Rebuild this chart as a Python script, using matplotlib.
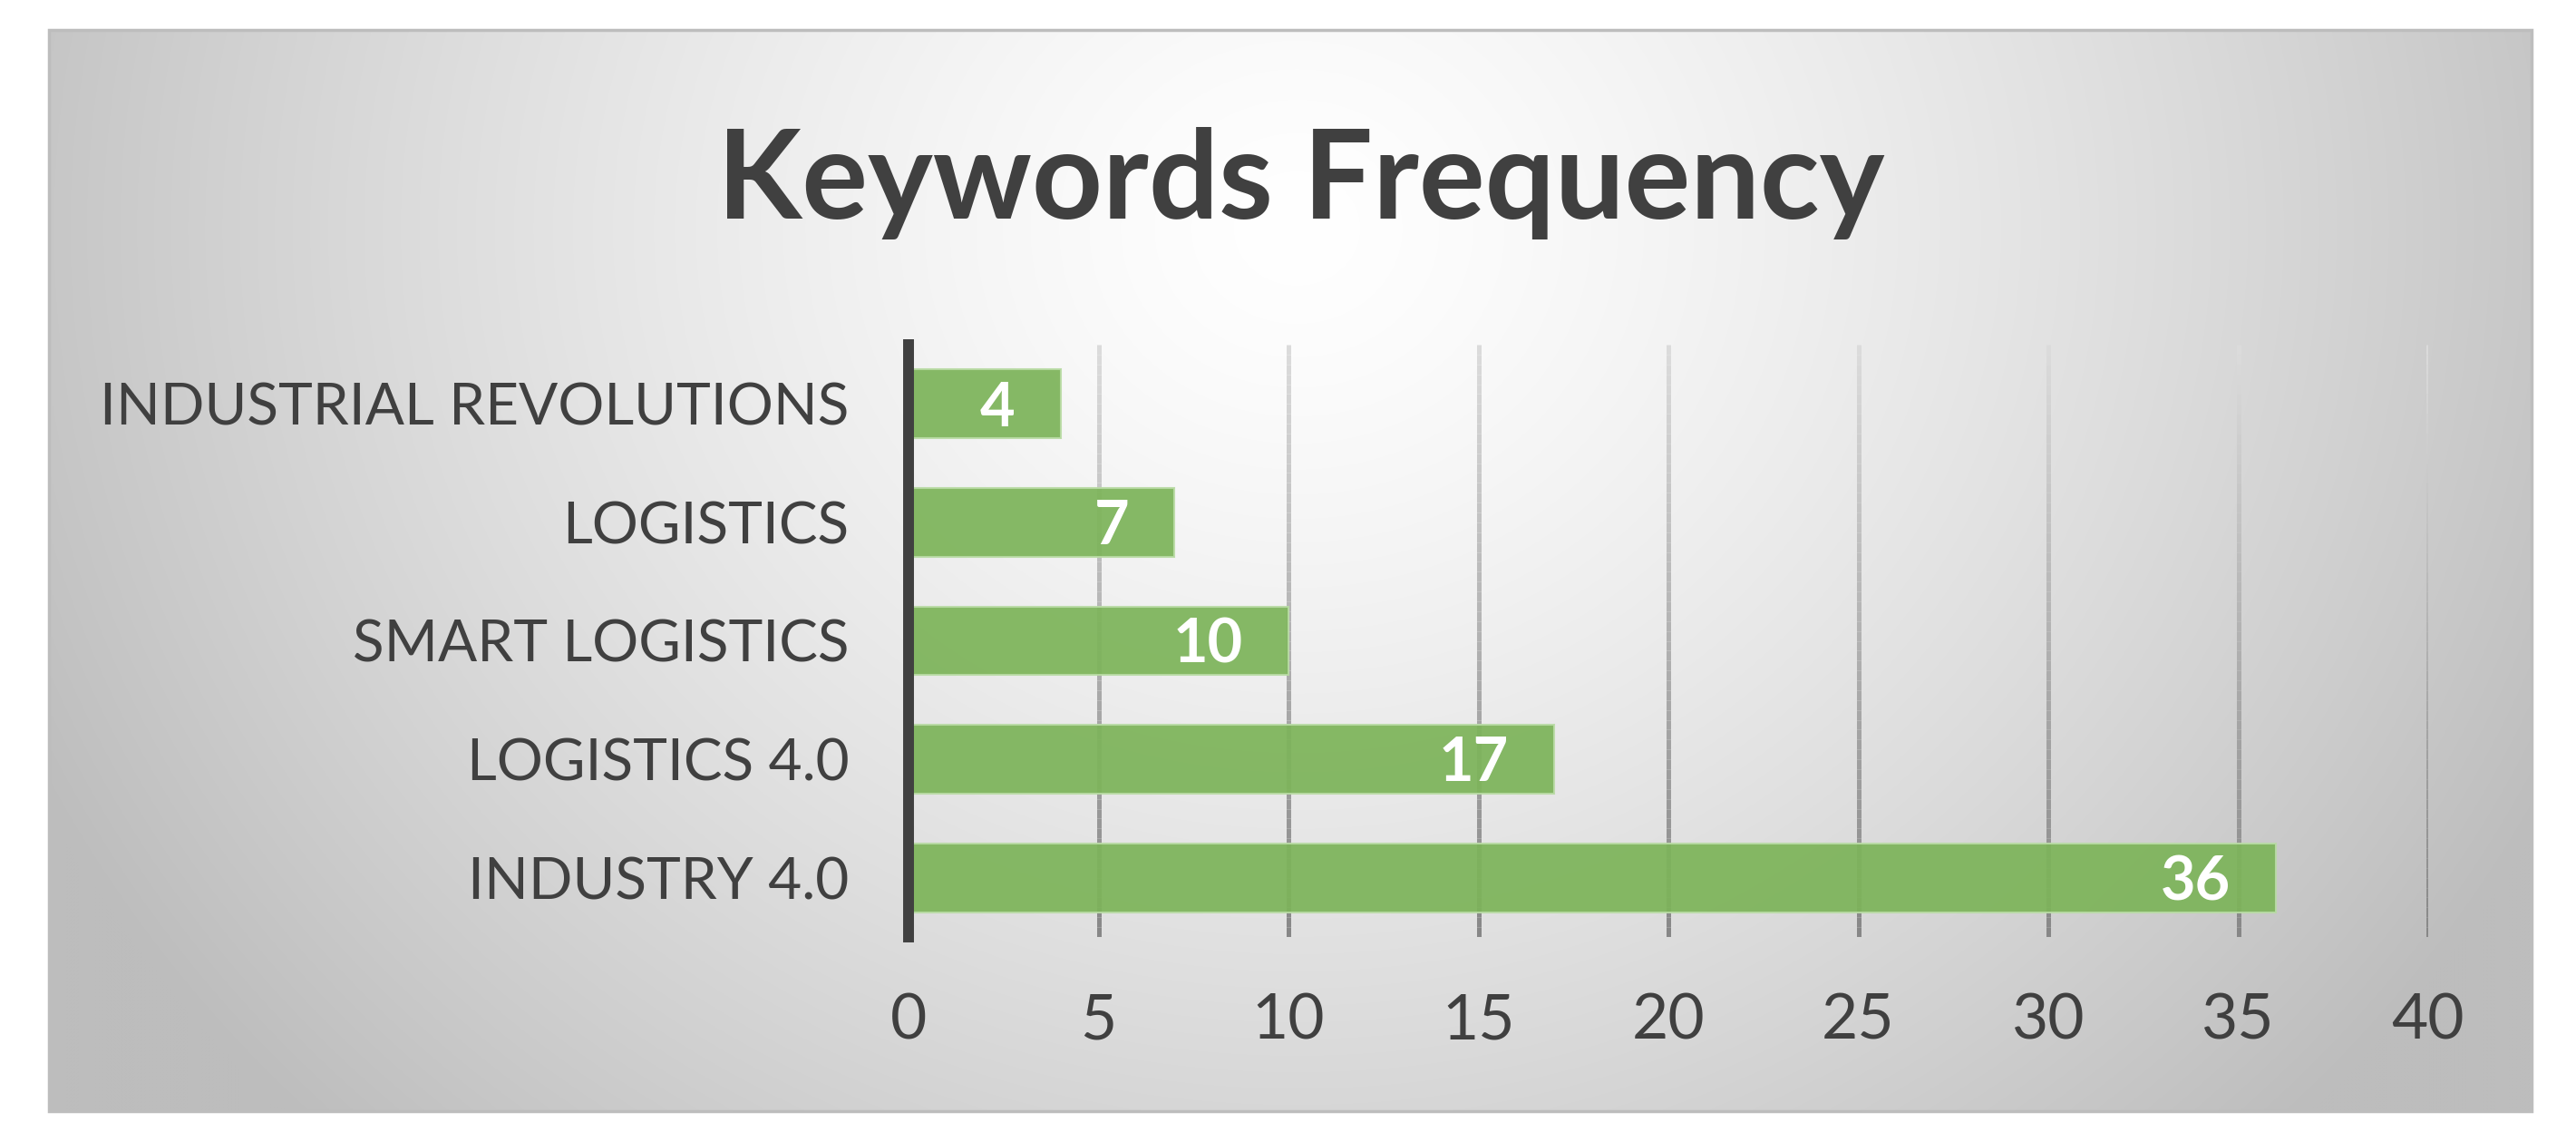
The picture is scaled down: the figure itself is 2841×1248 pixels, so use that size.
import numpy as np
import matplotlib
matplotlib.use("Agg")
import matplotlib.pyplot as plt
from matplotlib.patches import Polygon
from matplotlib.collections import LineCollection

# ---- data ----
categories = ["INDUSTRY 4.0", "LOGISTICS 4.0", "SMART LOGISTICS", "LOGISTICS", "INDUSTRIAL REVOLUTIONS"]
values = [36, 17, 10, 7, 4]
x_ticks = [0, 5, 10, 15, 20, 25, 30, 35, 40]
title = "Keywords Frequency"

W, H = 2841, 1248
DPI = 100
fig = plt.figure(figsize=(W / DPI, H / DPI), dpi=DPI)
fig.patch.set_facecolor("white")

FONT = "Lato"
TXT = "#404040"

# ---- background panel with radial gradient ----
bg = fig.add_axes([0, 0, 1, 1], zorder=-5)
bg.set_xlim(0, W)
bg.set_ylim(H, 0)
bg.axis("off")
yy, xx = np.mgrid[0:H:4, 0:W:4]
d = np.sqrt(((xx - 1430) / 1550.0) ** 2 + ((yy - 250) / 1400.0) ** 2)
v = 255 - 66 * np.clip(d, 0, 1) ** 1.35
img = np.dstack([v, v, v]) / 255.0
panel_pts = [(54, 33), (2792, 33), (2792, 1225), (54, 1225)]
im = bg.imshow(img, extent=(0, W, H, 0), interpolation="bilinear", aspect="auto")
poly = Polygon(panel_pts, closed=True, facecolor="none", edgecolor="#bdbdbd", linewidth=2.5)
bg.add_patch(poly)
im.set_clip_path(poly)

# ---- title ----
fig.text(1435 / W, 1 - 241 / H, title, ha="center", va="baseline",
         fontsize=98, fontweight="bold", color=TXT, family=FONT)

# ---- main axes ----
left, right, top, bottom = 1002, 2678, 380, 1033
ax = fig.add_axes([left / W, 1 - bottom / H, (right - left) / W, (bottom - top) / H])
ax.patch.set_alpha(0)
ax.set_xlim(0, 40)
ax.set_ylim(-0.5, len(categories) - 0.5)

# gradient gridlines (lighter at top, darker at bottom)
nseg = 60
ys = np.linspace(-0.5, len(categories) - 0.5, nseg + 1)
for xt in x_ticks[1:]:
    segs = [[(xt, ys[i]), (xt, ys[i + 1])] for i in range(nseg)]
    t = np.linspace(1, 0, nseg)  # 1 at bottom -> 0 at top
    shade = 0.86 - 0.33 * t
    cols = [(s, s, s) for s in shade]
    lc = LineCollection(segs, colors=cols, linewidths=3.6, zorder=1)
    ax.add_collection(lc)

ypos = np.arange(len(categories))
ax.barh(ypos, values, height=0.58, color="#7DB45A", alpha=0.93,
        edgecolor="#b9dba5", linewidth=1.5, zorder=2)

for y, val in zip(ypos, values):
    ax.annotate(str(val), xy=(val, y), xytext=(-36, -17.5), textcoords="offset points",
                ha="right", va="baseline", fontsize=48, fontweight="bold",
                color="white", family=FONT, zorder=3)

for s in ["top", "right", "bottom"]:
    ax.spines[s].set_visible(False)
ax.spines["left"].set_color(TXT)
ax.spines["left"].set_linewidth(8.6)
ax.spines["left"].set_zorder(4)

ax.set_yticks(ypos)
ax.set_yticklabels(categories)
ax.set_xticks(x_ticks)
ax.set_xticklabels([str(t) for t in x_ticks])
ax.tick_params(axis="y", length=0, pad=47, labelsize=46, labelcolor=TXT)
ax.tick_params(axis="x", length=0, pad=44, labelsize=50, labelcolor=TXT)
for lab in ax.get_xticklabels() + ax.get_yticklabels():
    lab.set_family(FONT)

fig.savefig("out.png", dpi=DPI, facecolor="white")
